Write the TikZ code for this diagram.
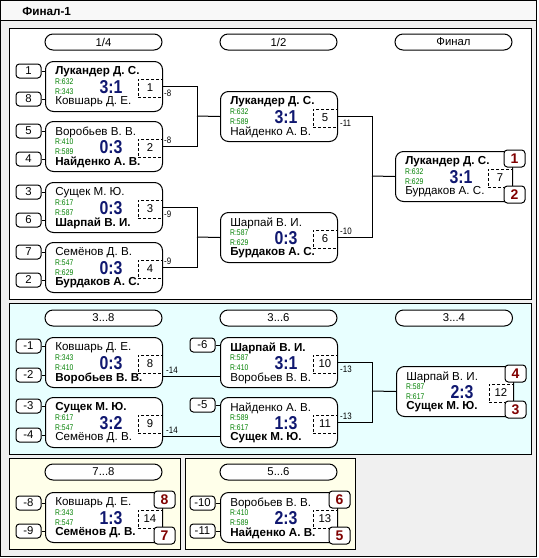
\documentclass[tikz,border=0pt]{standalone}
\usepackage{fontspec}
\setmainfont{Liberation Sans}
\usetikzlibrary{calc}
\definecolor{bggray}{RGB}{240,240,240}
\definecolor{titlebg}{RGB}{248,248,248}
\definecolor{pcyan}{RGB}{232,255,255}
\definecolor{pyellow}{RGB}{255,255,234}
\definecolor{scorecol}{RGB}{16,24,112}
\definecolor{ratecol}{RGB}{0,128,0}
\definecolor{placecol}{RGB}{128,0,0}
\tikzset{
 panel/.style={draw=black, line width=0.75pt},
 pill/.style={draw, fill=white, line width=0.75pt, rounded corners=6pt, minimum width=87.75pt, minimum height=12pt, inner sep=0pt, font=\fontsize{8.5}{9}\selectfont},
 mbx/.style={draw, fill=white, line width=0.75pt, rounded corners=6pt, minimum width=87.75pt, minimum height=37.5pt, anchor=north west, inner sep=0pt},
 nm/.style={anchor=west, inner sep=0pt, font=\fontsize{8.7}{9}\selectfont},
 rt/.style={anchor=west, inner sep=0pt, text=ratecol, font=\fontsize{6.2}{6.2}\selectfont, xscale=0.82},
 sc/.style={inner sep=0pt, text=scorecol, font=\fontsize{14}{14}\selectfont\bfseries, xscale=0.85},
 dbox/.style={draw, line width=0.75pt, dash pattern=on 2.25pt off 1.5pt, minimum width=18pt, minimum height=13.5pt, inner sep=0pt, font=\fontsize{8.5}{9}\selectfont},
 seed/.style={draw, fill=white, line width=0.75pt, rounded corners=2.5pt, minimum width=18.75pt, minimum height=10.5pt, inner sep=0pt, font=\fontsize{8.5}{9}\selectfont},
 place/.style={draw, fill=white, line width=0.75pt, rounded corners=2.5pt, minimum width=15.75pt, minimum height=12.75pt, inner sep=0pt, text=placecol, font=\fontsize{10.5}{11}\selectfont\bfseries},
 lbl/.style={anchor=west, inner sep=0pt, font=\fontsize{7}{7}\selectfont, xscale=0.85},
 conn/.style={line width=0.75pt},
}
% #1 id, #2 x, #3 y, #4 name1, #5 name2, #6 r1, #7 r2, #8 score, #9 num
\newcommand\matchbx[9]{%
 \node[mbx] (#1) at (#2,#3) {};
 \begin{scope}[shift={(#2,#3)}]
  \node[nm] (#1a) at (10,11) {#4};
  \node[rt] (#1r) at (10,20.5) {#6};
  \node[rt] (#1s) at (10,31) {#7};
  \node[nm] (#1b) at (10,41) {#5};
  \node[sc] (#1c) at (66,26) {#8};
  \node[dbox] (#1d) at (105,27) {#9};
 \end{scope}}
% #1 id, #2 x center, #3 y center, #4 text, #5 target box
\newcommand\seedbx[5]{%
 \node[seed] (#1) at (#2,#3) {#4};
 \draw[conn] (#1.east) -- (#1.east -| #5.west);}
% #1 box id, #2 top text, #3 bottom text
\newcommand\placebx[3]{%
 \node[place] (#1p1) at ([shift={(1.5,7.5)}]#1.north east) {#2};
 \node[place] (#1p2) at ([shift={(1.5,43.5)}]#1.north east) {#3};}
\begin{document}
\begin{tikzpicture}[x=0.75pt,y=-0.75pt]
\useasboundingbox (0,0) rectangle (539,558);
\fill[white] (0,0) rectangle (539,558);
\draw[line width=0.75pt, fill=bggray] (0.5,0.5) rectangle (536.5,556.5);
\draw[line width=0.75pt, fill=titlebg] (0.5,0.5) rectangle (536.5,20.5);
\node[anchor=west, inner sep=0pt, font=\fontsize{8.8}{9}\selectfont\bfseries] (title) at (22,11) {Финал-1};
% panels
\draw[panel, fill=white] (9.5,28.5) rectangle (531,299);
\draw[panel, fill=pcyan] (9.5,303.5) rectangle (531,454);
\draw[panel, fill=pyellow] (9.5,458.5) rectangle (180,549.5);
\draw[panel, fill=pyellow] (185,458.5) rectangle (355,549.5);
% headers
\node[pill] (h1) at (103.5,42) {1/4};
\node[pill] (h2) at (278.5,42) {1/2};
\node[pill] (h3) at (453.5,42) {Финал};
\node[pill] (h4) at (103.5,318) {3...8};
\node[pill] (h5) at (278.5,318) {3...6};
\node[pill] (h6) at (454,318) {3...4};
\node[pill] (h7) at (103.5,472) {7...8};
\node[pill] (h8) at (278.5,472) {5...6};
% junctions
\coordinate (j1) at (197,116);
\coordinate (j2) at (197,237);
\coordinate (j3) at (372,176);
\coordinate (j4) at (372,391);
% panel 1
\matchbx{m1}{45}{61}{\bfseries Лукандер Д. С.}{Ковшарь Д. Е.}{R:632}{R:343}{3:1}{1}
\matchbx{m2}{45}{121}{Воробьев В. В.}{\bfseries Найденко А. В.}{R:410}{R:589}{0:3}{2}
\matchbx{m3}{45}{182}{Сущек М. Ю.}{\bfseries Шарпай В. И.}{R:617}{R:587}{0:3}{3}
\matchbx{m4}{45}{242}{Семёнов Д. В.}{\bfseries Бурдаков А. С.}{R:547}{R:629}{0:3}{4}
\matchbx{m5}{220}{91}{\bfseries Лукандер Д. С.}{Найденко А. В.}{R:632}{R:589}{3:1}{5}
\matchbx{m6}{220}{212}{Шарпай В. И.}{\bfseries Бурдаков А. С.}{R:587}{R:629}{0:3}{6}
\matchbx{m7}{395}{151}{\bfseries Лукандер Д. С.}{Бурдаков А. С.}{R:632}{R:629}{3:1}{7}
\placebx{m7}{1}{2}
\seedbx{s1}{28.5}{71}{1}{m1}
\seedbx{s2}{28.5}{99}{8}{m1}
\seedbx{s3}{28.5}{131}{5}{m2}
\seedbx{s4}{28.5}{159}{4}{m2}
\seedbx{s5}{28.5}{192}{3}{m3}
\seedbx{s6}{28.5}{220}{6}{m3}
\seedbx{s7}{28.5}{252}{7}{m4}
\seedbx{s8}{28.5}{280}{2}{m4}
\draw[conn] (m1.east) -| (j1);
\draw[conn] (m2.east) -| (j1);
\draw[conn] (j1) -- (m5.west);
\draw[conn] (m3.east) -| (j2);
\draw[conn] (m4.east) -| (j2);
\draw[conn] (j2) -- (m6.west);
\draw[conn] (m5.east) -| (j3);
\draw[conn] (m6.east) -| (j3);
\draw[conn] (j3) -- (m7.west);
\node[lbl] (l1) at (164,93) {-8};
\node[lbl] (l2) at (164,140) {-8};
\node[lbl] (l3) at (164,214) {-9};
\node[lbl] (l4) at (164,261) {-9};
\node[lbl] (l5) at (340,123) {-11};
\node[lbl] (l6) at (340,231) {-10};
% panel 2
\matchbx{m8}{45}{337}{Ковшарь Д. Е.}{\bfseries Воробьев В. В.}{R:343}{R:410}{0:3}{8}
\matchbx{m9}{45}{397}{\bfseries Сущек М. Ю.}{Семёнов Д. В.}{R:617}{R:547}{3:2}{9}
\matchbx{m10}{220}{337}{\bfseries Шарпай В. И.}{Воробьев В. В.}{R:587}{R:410}{3:1}{10}
\matchbx{m11}{220}{397}{Найденко А. В.}{\bfseries Сущек М. Ю.}{R:589}{R:617}{1:3}{11}
\matchbx{m12}{396}{366}{Шарпай В. И.}{\bfseries Сущек М. Ю.}{R:587}{R:617}{2:3}{12}
\placebx{m12}{4}{3}
\seedbx{s9}{28.5}{346}{-1}{m8}
\seedbx{s10}{28.5}{375}{-2}{m8}
\seedbx{s11}{28.5}{406}{-3}{m9}
\seedbx{s12}{28.5}{435}{-4}{m9}
\seedbx{s13}{202.5}{345}{-6}{m10}
\seedbx{s14}{202.5}{405}{-5}{m11}
\draw[conn] ([yshift=-10.5pt]m8.east) -- ([yshift=-10.5pt]m10.west);
\draw[conn] ([yshift=-10.5pt]m9.east) -- ([yshift=-10.5pt]m11.west);
\draw[conn] (m10.east) -| (j4);
\draw[conn] (m11.east) -| (j4);
\draw[conn] (j4) -- (m12.west);
\node[lbl] (l7) at (166,370) {-14};
\node[lbl] (l8) at (166,430) {-14};
\node[lbl] (l9) at (340,369) {-13};
\node[lbl] (l10) at (340,416) {-13};
% panel 3
\matchbx{m14}{45}{492}{Ковшарь Д. Е.}{\bfseries Семёнов Д. В.}{R:343}{R:547}{1:3}{14}
\placebx{m14}{8}{7}
\seedbx{s15}{28.5}{503}{-8}{m14}
\seedbx{s16}{28.5}{531}{-9}{m14}
% panel 4
\matchbx{m13}{220}{492}{Воробьев В. В.}{\bfseries Найденко А. В.}{R:410}{R:589}{2:3}{13}
\placebx{m13}{6}{5}
\seedbx{s17}{202.5}{503}{-10}{m13}
\seedbx{s18}{202.5}{531}{-11}{m13}
\end{tikzpicture}
\end{document}
